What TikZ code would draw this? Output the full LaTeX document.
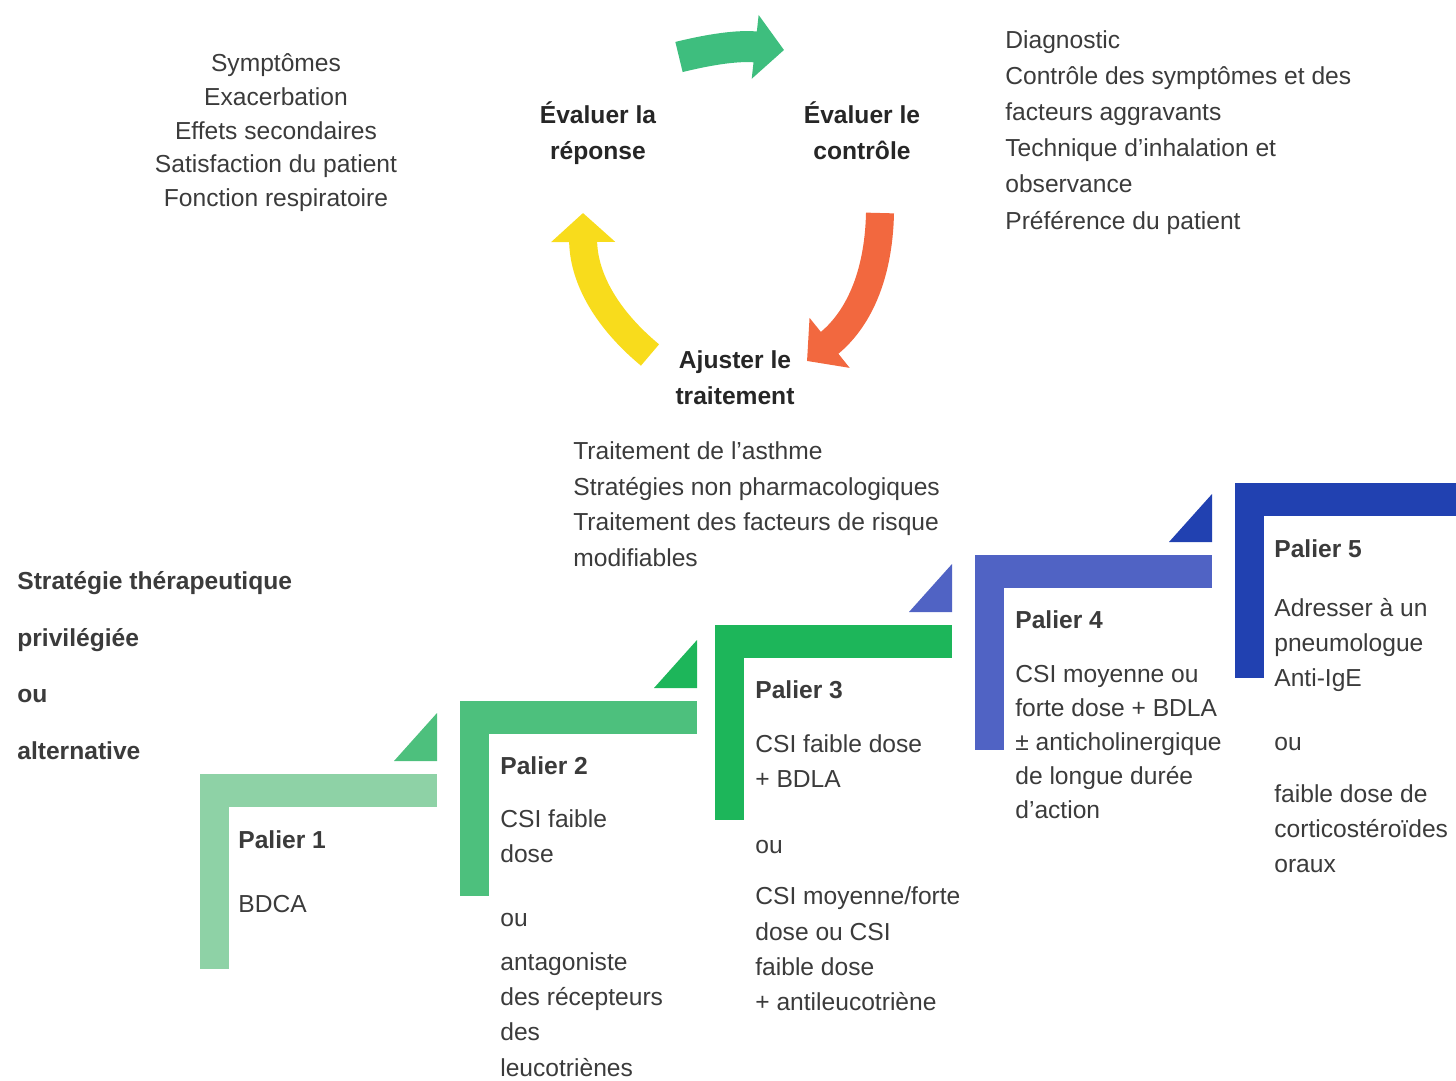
\documentclass[tikz,border=0pt]{standalone}
\usepackage{fontspec}
\setmainfont{Liberation Sans}
\usetikzlibrary{arrows.meta, positioning}

\definecolor{pal1}{HTML}{8ED2A6}
\definecolor{pal2}{HTML}{4DC07D}
\definecolor{pal3}{HTML}{1DB65A}
\definecolor{pal4}{HTML}{5063C4}
\definecolor{pal5}{HTML}{2141B1}
\definecolor{cycgreen}{HTML}{3EBE7E}
\definecolor{cycred}{HTML}{F2683F}
\definecolor{cycyellow}{HTML}{F8DC1C}
\definecolor{txtgray}{HTML}{3B3B3B}

\begin{document}
\begin{tikzpicture}[
    x=0.02cm, y=-0.02cm,
    font=\fontsize{14pt}{20pt}\selectfont,
    txt/.style={inner sep=0pt, anchor=north west, align=left, text=txtgray},
    ctxt/.style={txt, anchor=north, align=center},
    head/.style={ctxt, font=\fontsize{14pt}{20.5pt}\selectfont\bfseries, text=black!85},
    cyc/.style={line width=0.56cm, -{Triangle[length=0.58cm, width=1.25cm]}, bend left=25}
]
\useasboundingbox (0,0) rectangle (1456,1081);
\clip (0,0) rectangle (1456,1081);

% --- PALIERS (marches) ---
\foreach \x/\y/\c in {200/774/pal1, 460/701/pal2, 715/625/pal3, 975/555/pal4, 1235/483/pal5}{
    \fill[\c] (\x,\y) rectangle ++(237,33);
    \fill[\c] (\x,\y) rectangle ++(29,195);
}
% triangles entre les marches
\foreach \x/\y/\c in {437/774/pal2, 697/701/pal3, 952/625/pal4, 1212/555/pal5}{
    \fill[\c] (\x,\y-13) -- ++(-43,0) -- ++(43,-48) -- cycle;
}

% --- NODES ---
\node (symptomes) [ctxt, font=\fontsize{14pt}{19.3pt}\selectfont] at (276,53) {Symptômes\\Exacerbation\\Effets secondaires\\Satisfaction du patient\\Fonction respiratoire};
\node (reponse) [head] at (598,101) {Évaluer la\\réponse};
\node (controle) [head] at (862,101) {Évaluer le\\contrôle};
\node (ajuster) [head] at (735,350) {Ajuster le\\traitement};
\node (diagnostic) [txt, font=\fontsize{14pt}{20.6pt}\selectfont] at (1005,30) {Diagnostic\\Contrôle des symptômes et des\\facteurs aggravants\\Technique d'inhalation et\\observance\\Préférence du patient};
\node (traitement) [txt, font=\fontsize{14pt}{20.4pt}\selectfont] at (573,441) {Traitement de l'asthme\\Stratégies non pharmacologiques\\Traitement des facteurs de risque\\modifiables};
\node (strategie) [txt, font=\fontsize{14pt}{32.3pt}\selectfont\bfseries] at (17,571) {Stratégie thérapeutique\\privilégiée\\ou\\alternative};

\node (palier1) [txt] at (238,830) {\textbf{Palier 1}\\[0.575cm]BDCA};
\node (palier2) [txt] at (500,756) {\textbf{Palier 2}\\[0.354cm]CSI faible\\dose\\[0.575cm]ou\\[0.19cm]antagoniste\\des récepteurs\\des\\leucotriènes};
\node (palier3) [txt] at (755,680) {\textbf{Palier 3}\\[0.375cm]CSI faible dose\\+ BDLA\\[0.615cm]ou\\[0.335cm]CSI moyenne/forte\\dose ou CSI\\faible dose\\+ antileucotriène};
\node (palier4) [txt, font=\fontsize{14pt}{19.3pt}\selectfont] at (1015,610) {\textbf{Palier 4}\\[0.41cm]CSI moyenne ou\\forte dose + BDLA\\± anticholinergique\\de longue durée\\d'action};
\node (palier5) [txt] at (1274,539) {\textbf{Palier 5}\\[0.475cm]Adresser à un\\pneumologue\\Anti-IgE\\[0.575cm]ou\\[0.335cm]faible dose de\\corticostéroïdes\\oraux};

% --- CYCLE ---
\coordinate (gA) at (679,57);
\coordinate (gB) at (784,50);
\coordinate (rA) at (880,213);
\coordinate (rB) at (807,361);
\coordinate (yA) at (650,355);
\coordinate (yB) at (583,213);

\draw [cyc, cycgreen, line width=0.62cm, bend left=10] (gA) to (gB);
\draw [cyc, cycred] (rA) to (rB);
\draw [cyc, cycyellow] (yA) to (yB);

\end{tikzpicture}
\end{document}
